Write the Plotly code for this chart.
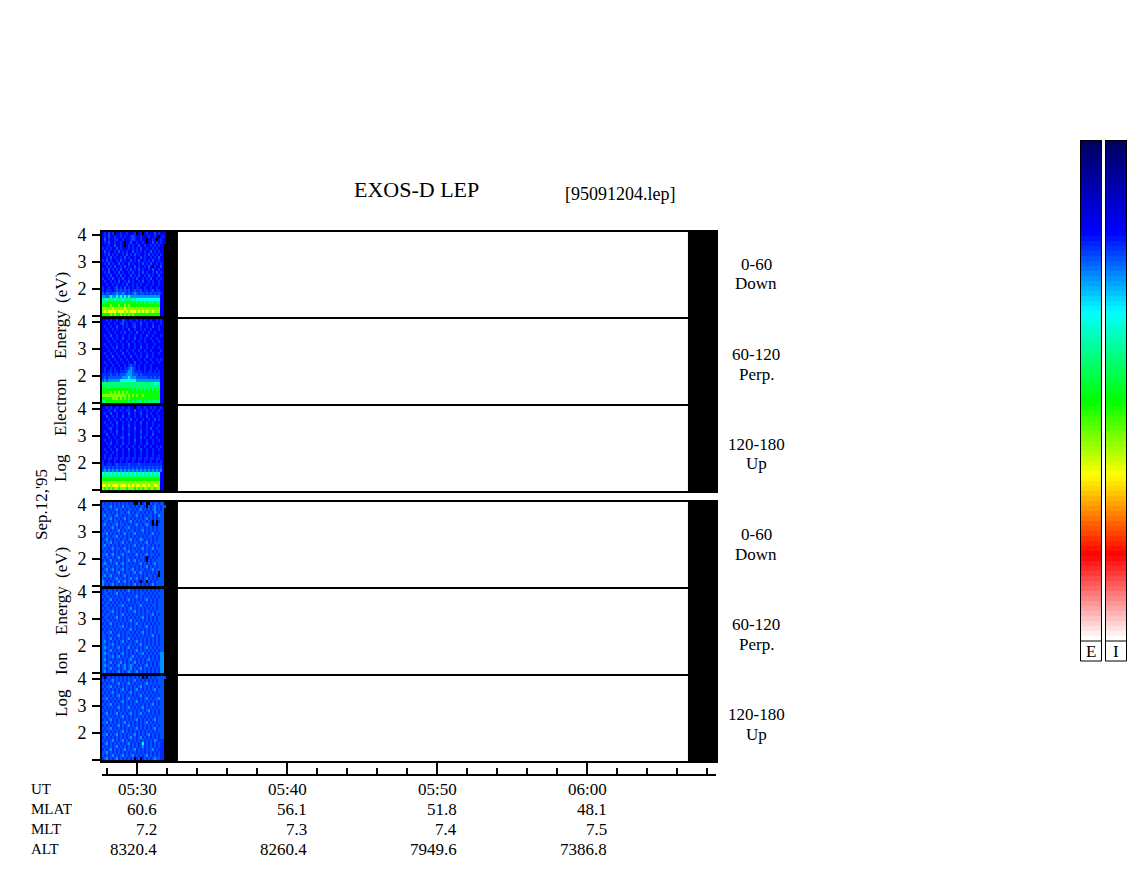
import plotly.graph_objects as go

W, H = 1130, 875
FONT = "Liberation Serif"

# --- data -------------------------------------------------------------
tick_minutes = [0, 10, 20, 30]
ut_labels = ["05:30", "05:40", "05:50", "06:00"]
mlat_values = ["60.6", "56.1", "51.8", "48.1"]
mlt_values = ["7.2", "7.3", "7.4", "7.5"]
alt_values = ["8320.4", "8260.4", "7949.6", "7386.8"]
row_names = ["UT", "MLAT", "MLT", "ALT"]
energy_ticks = [1, 2, 3, 4]
energy_ticktext = ["", "2", "3", "4"]
gap_starts = [-2.4, 36.73]
gap_ends = [2.73, 38.67]
time_start = -2.27
time_step = 0.1333
energy_start = 1.055
energy_step = 0.111
color_ramp = [0,1,2,3,4,5,6,7,8,9,10,11,12,13,14,15,16,17,18,19,20,21,22,23,24,25,26,27,28,29,30,31,32,33,
              34,35,36,37,38,39,40,41,42,43,44,45,46,47,48,49,50,51,52,53,54,55,56,57,58,59,60,61,62,63,64,
              65,66,67,68,69,70,71,72,73,74,75,76,77,78,79,80,81,82,83,84,85,86,87,88,89,90,91,92,93,94,95,
              96,97,98,99]
# colour level of each image cell, top row first, "." = no data
level_values = {"0": 14, "1": 17, "2": 20.5, "3": 23, "4": 27, "5": 34, "6": 43, "7": 52, "8": 59, "9": 66}

electron_down = [
    "121312.1121121112.11.12111312111.",
    "1213112112121123211211121121.121.",
    "1312112211211123211211.1121.1211.",
    "12131121121.1131121121.113121211.",
    "11121131121.1212113112112121211.",
    "2121211312111212121311211212111.",
    "1312112131212113121212113121211.",
    "1213121211213121312112131212121.",
    "1121312112131211211312112121311.",
    "2131211213121131213112121311211.",
    "1213121131211312112131213112121.",
    "1121213112131211312112131.21131.",
    "2113121213112131213121121311211.",
    "1213112131211213112131211213121.",
    "1121311213121131213112131211311.",
    "2112131121311212131121213112121.",
    "1211212131121312112131121211211.",
    "1121121211213112121211211211211.",
    "2112112312131212122112112112111.",
    "2122212323232312322312212312211.",
    "3233233433432323432332323232321.",
    "4434544545454544444444444444411.",
    "6656665666566665655555555555511.",
    "6677777776767777767676766676611.",
    "7777877787787877777777777777711.",
    "8888898888898888888888888888811.",
    "8989999899989899989898988988811.",
    "7777878778787878777777777777711.",
]
electron_perp = [
    "1121211211321121121212112112121.",
    "1112112112312112211311211211121.",
    "1211211311212112311211211311211.",
    "1121121211211311211212112111211.",
    "1112112112131121131121121121111.",
    "1211311211211211211211311211121.",
    "1121121211311211311212112112111.",
    "1112112112112112112112111211211.",
    "1211211211211311211211211121111.",
    "1121121311211211211311211211211.",
    "1112112112112112112112112111121.",
    "1211211211311211211211211211211.",
    "1121131121121131121211311211111.",
    "1112112112112112112112112112121.",
    "1211211211211211311211211211211.",
    "1121121121121232212112112111111.",
    "1211212112122343212112112112111.",
    "1212212212223443222212122121211.",
    "2222322323334443332322222222211.",
    "2323333333444544433333323232311.",
    "3434444445555555544444444444411.",
    "6666666666666666666666666655611.",
    "6666666666666666666666666666611.",
    "7777777777777776767676767676711.",
    "7777878787878777777777777777711.",
    "8888888888887878787787777777711.",
    "7777788878787877777777777777711.",
    "6677777777777676766676766666611.",
]
electron_up = [
    "1121211211211211.12112112121121.",
    "1112113112112211311211211211211.",
    "1211311211211311211311212112111.",
    "1131121211311211211211311211211.",
    "1112112112112131121121121131211.",
    "1211211311211211211311211211111.",
    "1121121211211311211211211211211.",
    "1112311211311211311211213112111.",
    "1211211311211211211311211211211.",
    "1131121211211311211211211311111.",
    "1112112112311211211312112112111.",
    "1211211211211211311211211211211.",
    "1121311211311211211211311211111.",
    "1112112112112112112112112112121.",
    "1211211311211311211311211211211.",
    "1121121211211211211211211211111.",
    "1211211211211211211211211211211.",
    "1212212212212212212212212212211.",
    "2112112112112112112112112112121.",
    "2122212322222322223222222222221.",
    "2323232323232323232323232323231.",
    "3434343434343434343434343434341.",
    "5656565656565656565656565656511.",
    "6666666666666666666666666666611.",
    "7777777777777777777777777777711.",
    "8888888888888888888888888888811.",
    "9989899989998989899899898899811.",
    "8787878878887888787878878878811.",
]
ion_down = [
    "3232323232323232..3.23..3233233.",
    "3323423232423323232332.323423233.",
    "2332323423232332323423232342323.",
    "3233232323323423233232323243233.",
    "3423323423232332342323233232433.",
    "3233423232342323232323423232333.",
    "2332323323232342323233232.3.233.",
    "3423233423323232342323432.2.333.",
    "3232342323233423232332323232333.",
    "2323232342323233232342323232333.",
    "3342323232342323423232323423233.",
    "3233233423232323232323233232333.",
    "2342323232332342323432323232333.",
    "3233423323423232332323423233333.",
    "3423232323232323423232332323233.",
    "3232342332342323232342323423333.",
    "2323232323233423323232323232333.",
    "3342342323423232342323423323233.",
    "3233232342323323232332.23232333.",
    "2323423232323423423232.32323333.",
    "3432323423423232323423232342333.",
    "3233232332323323232323423232333.",
    "2342342323423234232332323423333.",
    "3233232342323323423423232323.33.",
    "3423423232342323232323233232.33.",
    "3232323423232342342323423232333.",
    "4323232342342323232.23.32323333.",
    "4232342323232323423232323423333.",
]
ion_perp = [
    "2323323232323423232323232323233.",
    "2332323423232323232332323232333.",
    "3233232323323232342323232323233.",
    "2323423232323423232323423232333.",
    "3233232323232323233232323232333.",
    "2332323233423232323423232332333.",
    "3233232323232342323232323232333.",
    "2323342323232323423232332323333.",
    "3233232323423232323232323423233.",
    "2332323423232323232342323232333.",
    "3233232323232342323232323232333.",
    "2323423232323232342323232323233.",
    "3232323233423232323323423232333.",
    "2323232323232342323232323232333.",
    "3233423232323323232342323232333.",
    "3323232342323232323232323423233.",
    "3323423232323423232323232323233.",
    "3423232323423232342323232323233.",
    "3323342323232332323423232323233.",
    "3433232342323423232323423232333.",
    "3323423232323232342323232323233.",
    "3433232323423232323342323232344.",
    "3323342342323234232323232323244.",
    "3423232323232342323232342323244.",
    "3323423234232323423232323232344.",
    "3433232342342343232323423232344.",
    "3323423232342342323423232323244.",
    "3423232342323432342323232323244.",
]
ion_up = [
    "2.232323232323232323.2.323233333.",
    "3232342323232323423232323232333.",
    "2323232342323423232323423232333.",
    "3233423232323232323423232323233.",
    "2323232323423232342323232342333.",
    "3232342323232342323232323232333.",
    "2323232342323232323423232323233.",
    "3342323232323423232323423233433.",
    "2323232323423232342323232323233.",
    "3233423232323232323232323423233.",
    "2323232342323423232342323232333.",
    "3232323232323232323232342323233.",
    "2342323423232342323423232323233.",
    "3233232323423232323232323232333.",
    "2323423232323232342323232342333.",
    "3342323232342323232323423232333.",
    "2323232342323423232323232323233.",
    "3233423232323232342323232342333.",
    "2323232323423232323232323232333.",
    "3342323423232323423232342323233.",
    "2323232323232342323423232323233.",
    "3232342323423232323232323243222.",
    "2342323232323423232352323232322.",
    "3232323423232323232342323232322.",
    "2323423232342323423232323423222.",
    "3342323232323232323232323232322.",
    "3232342323423234232323423232322.",
    "2342323423232323.23.23232343322.",
]
panel_levels = [electron_down, electron_perp, electron_up, ion_down, ion_perp, ion_up]
panel_captions = [["0-60", "Down"], ["60-120", "Perp."], ["120-180", "Up"],
                  ["0-60", "Down"], ["60-120", "Perp."], ["120-180", "Up"]]

# --- helpers ----------------------------------------------------------
def fx(px):
    return px / W

def fy(py):
    return 1 - py / H

def decode(rows):
    out = []
    for row in reversed(rows):
        row = row.ljust(32, ".")[:32]
        out.append([level_values.get(c) for c in row])
    return out

def axis_id(letter, i):
    return letter if i == 1 else f"{letter}{i}"

colorscale = [[0, "rgb(0,0,100)"], [0.18, "rgb(0,0,255)"], [0.34, "rgb(0,255,255)"],
              [0.52, "rgb(0,255,0)"], [0.67, "rgb(255,255,0)"], [0.83, "rgb(255,0,0)"],
              [1, "rgb(255,255,255)"]]

fig = go.Figure()
layout = dict(width=W, height=H, margin=dict(l=0, r=0, t=0, b=0, pad=0, autoexpand=False), paper_bgcolor="white",
              plot_bgcolor="white", showlegend=False, font=dict(family=FONT, size=17, color="black"))
annotations = []
shapes = []

def label(text, x, y, size=17, anchor="center", angle=0):
    annotations.append(dict(text=text, x=fx(x), y=fy(y), xref="paper", yref="paper", showarrow=False,
                            xanchor=anchor, yanchor="middle", textangle=angle,
                            font=dict(family=FONT, size=size, color="black")))

panel_tops = [231, 318, 405, 501, 588, 675]
caption_rows = [264, 354, 444, 534, 624, 714]
panel_height = 87
X_RANGE = [-2.333, 38.6]
for i, (rows, caption, top, cap_y) in enumerate(zip(panel_levels, panel_captions, panel_tops, caption_rows), start=1):
    xa, ya = axis_id("x", i), axis_id("y", i)
    fig.add_trace(go.Heatmap(z=decode(rows), x0=time_start, dx=time_step, y0=energy_start, dy=energy_step,
                             xaxis=xa, yaxis=ya, colorscale=colorscale, zmin=0, zmax=99, showscale=False,
                             hoverongaps=False))
    layout[f"xaxis{i}"] = dict(domain=[fx(102), fx(716)], range=X_RANGE, anchor=ya, showline=True,
                               mirror=True, linecolor="black", linewidth=2, showgrid=False, zeroline=False,
                               ticks="", showticklabels=False)
    layout[f"yaxis{i}"] = dict(domain=[fy(top + panel_height - 1), fy(top + 1)], range=[0.963, 4.111], anchor=xa,
                               showline=True, mirror=True, linecolor="black", linewidth=2, showgrid=False,
                               zeroline=False, ticks="outside", ticklen=8, tickwidth=2, tickcolor="black",
                               tickvals=energy_ticks, ticktext=energy_ticktext, ticklabelstandoff=2,
                               tickfont=dict(family=FONT, size=18, color="black"))
    for s, e in zip(gap_starts, gap_ends):
        shapes.append(dict(type="rect", xref=xa, yref=f"{ya} domain", x0=s, x1=e, y0=0, y1=1,
                           fillcolor="black", line=dict(width=0), layer="below"))
    label(caption[0], 756, cap_y)
    label(caption[1], 756, cap_y + 20)

# time axis
layout["xaxis7"] = dict(domain=[fx(102), fx(716)], range=X_RANGE, anchor="free", position=fy(775),
                        side="top", overlaying="x", showline=True, linecolor="black", linewidth=2,
                        showgrid=False, zeroline=False, ticks="outside", ticklen=11, tickwidth=2,
                        tickcolor="black", tickvals=tick_minutes, showticklabels=False,
                        minor=dict(dtick=2, tick0=0, ticks="outside", ticklen=6, tickwidth=2,
                                   tickcolor="black", showgrid=False))
fig.add_trace(go.Scatter(x=tick_minutes, y=[None] * 4, xaxis="x7", yaxis="y", showlegend=False))

# table below the time axis
for name, values, y in zip(row_names, [ut_labels, mlat_values, mlt_values, alt_values], [789, 809, 829, 849]):
    label(name, 29, y, size=15, anchor="left")
    for t, v in zip(tick_minutes, values):
        annotations.append(dict(text=v, x=t, xref="x7", y=fy(y), yref="paper", xshift=22, showarrow=False,
                                xanchor="right", yanchor="middle",
                                font=dict(family=FONT, size=17, color="black")))

# colour bars
for j, (left, letter) in enumerate([(1080, "E"), (1105, "I")], start=8):
    fig.add_trace(go.Heatmap(z=[[v] for v in color_ramp], xaxis=f"x{j}", yaxis=f"y{j}", colorscale=colorscale,
                             zmin=0, zmax=99, showscale=False, hoverinfo="skip"))
    layout[f"xaxis{j}"] = dict(domain=[fx(left + 1), fx(left + 21)], anchor=f"y{j}", visible=True, showline=True,
                               mirror=True, linecolor="black", linewidth=1, ticks="", showticklabels=False,
                               showgrid=False, zeroline=False)
    layout[f"yaxis{j}"] = dict(domain=[fy(641), fy(141)], anchor=f"x{j}", autorange="reversed", showline=True,
                               mirror=True, linecolor="black", linewidth=1, ticks="", showticklabels=False,
                               showgrid=False, zeroline=False)
    shapes.append(dict(type="rect", xref="paper", yref="paper", x0=fx(left + 0.5), x1=fx(left + 21.5), y0=fy(661),
                       y1=fy(641), line=dict(color="black", width=1), fillcolor="white"))
    label(letter, left + 11, 651)

# titles
label("EXOS-D LEP", 416, 190, size=22)
label("[95091204.lep]", 620, 194, size=18)
label("Sep.12,'95", 41, 505, angle=-90)
for word, y in zip(["Log", "Electron", "Energy", "(eV)"], [468, 407, 335, 288]):
    label(word, 61, y, angle=-90)
for word, y in zip(["Log", "Ion", "Energy", "(eV)"], [703, 664, 611, 563]):
    label(word, 61, y, angle=-90)

layout["annotations"] = annotations
layout["shapes"] = shapes
fig.update_layout(**layout)
fig.write_html("out.html", config=dict(displayModeBar=False),
               post_script="document.body.style.margin='0';document.documentElement.style.overflow='hidden';")
